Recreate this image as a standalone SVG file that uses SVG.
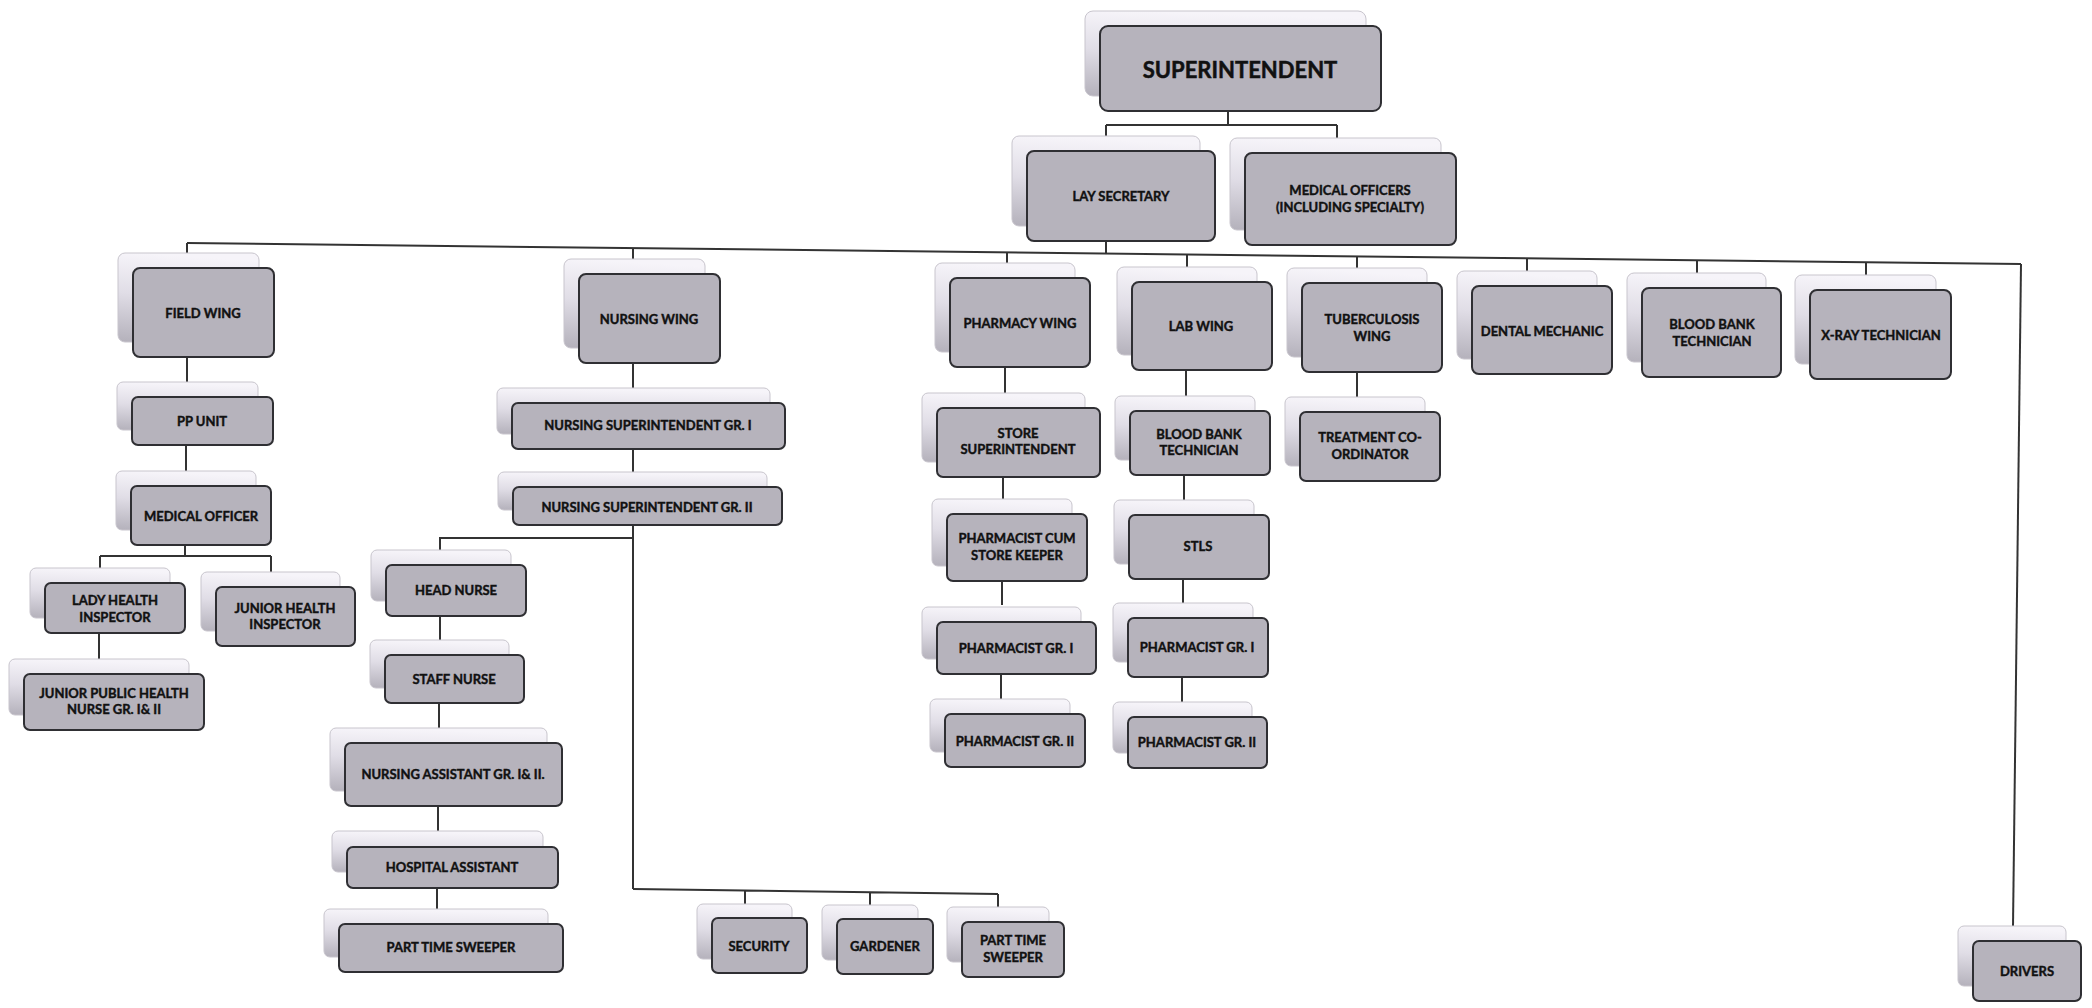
<svg xmlns="http://www.w3.org/2000/svg" width="2092" height="1008" viewBox="0 0 2092 1008">
<defs>
<linearGradient id="gb" x1="0.1" y1="0" x2="0" y2="1">
<stop offset="0" stop-color="#f6f4f9"/>
<stop offset="0.45" stop-color="#e0dde6"/>
<stop offset="1" stop-color="#b4b1bb"/>
</linearGradient>
<style>
.bk{fill:url(#gb);stroke:#c8c5cd;stroke-width:1}
.fr{fill:#b6b3bc;stroke:#2f2f33;stroke-width:2}
.t{font-family:"Lato","Liberation Sans",sans-serif;font-weight:700;font-size:13px;fill:#111;stroke:#111;stroke-width:0.4px;text-anchor:middle;dominant-baseline:central}
.tb{font-size:22px;stroke-width:0.5px}
.c{fill:none;stroke:#333;stroke-width:2}
</style>
</defs>
<rect width="2092" height="1008" fill="#ffffff"/>

<g id="connectors">
<path class="c" d="M1228 111V125M1106 125H1337M1106 125V136M1337 125V138"/>
<path class="c" d="M1106 241V253"/>
<path class="c" d="M187 243L2021 264"/>
<path class="c" d="M187 243V253M633 248V260M1007 252V263M1187 254V267M1357 256V268M1527 258V271M1697 260V273M1866 262V275"/>
<path class="c" d="M2021 264L2013 926"/>
<path class="c" d="M187 357V382M186 445V471M185 545V556M100 556H271M100 556V569M271 556V572M99 633V659"/>
<path class="c" d="M633 363V388M633 449V473M633 525V889M633 538H440V550M440 616V640M439 703V728M438 806V831M437 888V909"/>
<path class="c" d="M633 889L998 894M745 890V904M870 892V905M998 894V907"/>
<path class="c" d="M1005 367V393M1003 477V499M1002 581V605M1001 674V699"/>
<path class="c" d="M1186 370V396M1184 475V500M1183 579V603M1182 677V702"/>
<path class="c" d="M1357 372V397"/>
</g>

<g id="n-superintendent"><rect class="bk" x="1085" y="11" width="281" height="85" rx="8"/><rect class="fr" x="1100" y="26" width="281" height="85" rx="8"/><text class="t tb" x="1240" y="69">SUPERINTENDENT</text></g>
<g id="n-lay-secretary"><rect class="bk" x="1012" y="136" width="188" height="90" rx="7"/><rect class="fr" x="1027" y="151" width="188" height="90" rx="7"/><text class="t" x="1121" y="196">LAY SECRETARY</text></g>
<g id="n-medical-officers"><rect class="bk" x="1230" y="138" width="211" height="92" rx="7"/><rect class="fr" x="1245" y="153" width="211" height="92" rx="7"/><text class="t" x="1350" y="190">MEDICAL OFFICERS</text><text class="t" x="1350" y="207">(INCLUDING SPECIALTY)</text></g>

<g id="n-field-wing"><rect class="bk" x="118" y="253" width="141" height="89" rx="7"/><rect class="fr" x="133" y="268" width="141" height="89" rx="7"/><text class="t" x="203" y="313">FIELD WING</text></g>
<g id="n-pp-unit"><rect class="bk" x="117" y="382" width="141" height="48" rx="6"/><rect class="fr" x="132" y="397" width="141" height="48" rx="6"/><text class="t" x="202" y="421">PP UNIT</text></g>
<g id="n-medical-officer"><rect class="bk" x="116" y="471" width="140" height="59" rx="6"/><rect class="fr" x="131" y="486" width="140" height="59" rx="6"/><text class="t" x="201" y="516">MEDICAL OFFICER</text></g>
<g id="n-lady-health-inspector"><rect class="bk" x="30" y="568" width="140" height="50" rx="6"/><rect class="fr" x="45" y="583" width="140" height="50" rx="6"/><text class="t" x="115" y="600">LADY HEALTH</text><text class="t" x="115" y="617">INSPECTOR</text></g>
<g id="n-junior-health-inspector"><rect class="bk" x="201" y="572" width="139" height="59" rx="6"/><rect class="fr" x="216" y="587" width="139" height="59" rx="6"/><text class="t" x="285" y="608">JUNIOR HEALTH</text><text class="t" x="285" y="624">INSPECTOR</text></g>
<g id="n-jphn"><rect class="bk" x="9" y="659" width="180" height="56" rx="6"/><rect class="fr" x="24" y="674" width="180" height="56" rx="6"/><text class="t" x="114" y="693">JUNIOR PUBLIC HEALTH</text><text class="t" x="114" y="709">NURSE GR. I&amp; II</text></g>

<g id="n-nursing-wing"><rect class="bk" x="564" y="259" width="141" height="89" rx="7"/><rect class="fr" x="579" y="274" width="141" height="89" rx="7"/><text class="t" x="649" y="319">NURSING WING</text></g>
<g id="n-ns1"><rect class="bk" x="497" y="388" width="273" height="46" rx="6"/><rect class="fr" x="512" y="403" width="273" height="46" rx="6"/><text class="t" x="648" y="425">NURSING SUPERINTENDENT GR. I</text></g>
<g id="n-ns2"><rect class="bk" x="498" y="472" width="269" height="38" rx="6"/><rect class="fr" x="513" y="487" width="269" height="38" rx="6"/><text class="t" x="647" y="507">NURSING SUPERINTENDENT GR. II</text></g>
<g id="n-head-nurse"><rect class="bk" x="371" y="550" width="140" height="51" rx="6"/><rect class="fr" x="386" y="565" width="140" height="51" rx="6"/><text class="t" x="456" y="590">HEAD NURSE</text></g>
<g id="n-staff-nurse"><rect class="bk" x="370" y="640" width="139" height="48" rx="6"/><rect class="fr" x="385" y="655" width="139" height="48" rx="6"/><text class="t" x="454" y="679">STAFF NURSE</text></g>
<g id="n-nursing-assistant"><rect class="bk" x="330" y="728" width="217" height="63" rx="6"/><rect class="fr" x="345" y="743" width="217" height="63" rx="6"/><text class="t" x="453" y="774">NURSING ASSISTANT GR. I&amp; II.</text></g>
<g id="n-hospital-assistant"><rect class="bk" x="332" y="831" width="211" height="41" rx="6"/><rect class="fr" x="347" y="847" width="211" height="41" rx="6"/><text class="t" x="452" y="867">HOSPITAL ASSISTANT</text></g>
<g id="n-part-time-sweeper-1"><rect class="bk" x="324" y="909" width="224" height="48" rx="6"/><rect class="fr" x="339" y="924" width="224" height="48" rx="6"/><text class="t" x="451" y="947">PART TIME SWEEPER</text></g>
<g id="n-security"><rect class="bk" x="697" y="904" width="95" height="55" rx="6"/><rect class="fr" x="712" y="918" width="95" height="55" rx="6"/><text class="t" x="759" y="946">SECURITY</text></g>
<g id="n-gardener"><rect class="bk" x="822" y="905" width="96" height="55" rx="6"/><rect class="fr" x="837" y="919" width="96" height="55" rx="6"/><text class="t" x="885" y="946">GARDENER</text></g>
<g id="n-part-time-sweeper-2"><rect class="bk" x="947" y="907" width="102" height="55" rx="6"/><rect class="fr" x="962" y="922" width="102" height="55" rx="6"/><text class="t" x="1013" y="940">PART TIME</text><text class="t" x="1013" y="957">SWEEPER</text></g>

<g id="n-pharmacy-wing"><rect class="bk" x="935" y="263" width="140" height="89" rx="7"/><rect class="fr" x="950" y="278" width="140" height="89" rx="7"/><text class="t" x="1020" y="323">PHARMACY WING</text></g>
<g id="n-store-superintendent"><rect class="bk" x="922" y="393" width="163" height="69" rx="6"/><rect class="fr" x="937" y="408" width="163" height="69" rx="6"/><text class="t" x="1018" y="433">STORE</text><text class="t" x="1018" y="449">SUPERINTENDENT</text></g>
<g id="n-pharmacist-cum-store-keeper"><rect class="bk" x="932" y="499" width="140" height="67" rx="6"/><rect class="fr" x="947" y="514" width="140" height="67" rx="6"/><text class="t" x="1017" y="538">PHARMACIST CUM</text><text class="t" x="1017" y="555">STORE KEEPER</text></g>
<g id="n-pharmacist-gr1-a"><rect class="bk" x="922" y="607" width="159" height="52" rx="6"/><rect class="fr" x="937" y="622" width="159" height="52" rx="6"/><text class="t" x="1016" y="648">PHARMACIST GR. I</text></g>
<g id="n-pharmacist-gr2-a"><rect class="bk" x="930" y="699" width="140" height="53" rx="6"/><rect class="fr" x="945" y="714" width="140" height="53" rx="6"/><text class="t" x="1015" y="741">PHARMACIST GR. II</text></g>

<g id="n-lab-wing"><rect class="bk" x="1117" y="267" width="140" height="88" rx="7"/><rect class="fr" x="1132" y="282" width="140" height="88" rx="7"/><text class="t" x="1201" y="326">LAB WING</text></g>
<g id="n-blood-bank-technician-lab"><rect class="bk" x="1115" y="396" width="140" height="64" rx="6"/><rect class="fr" x="1130" y="411" width="140" height="64" rx="6"/><text class="t" x="1199" y="434">BLOOD BANK</text><text class="t" x="1199" y="450">TECHNICIAN</text></g>
<g id="n-stls"><rect class="bk" x="1114" y="500" width="140" height="64" rx="6"/><rect class="fr" x="1129" y="515" width="140" height="64" rx="6"/><text class="t" x="1198" y="546">STLS</text></g>
<g id="n-pharmacist-gr1-b"><rect class="bk" x="1113" y="603" width="140" height="59" rx="6"/><rect class="fr" x="1128" y="618" width="140" height="59" rx="6"/><text class="t" x="1197" y="647">PHARMACIST GR. I</text></g>
<g id="n-pharmacist-gr2-b"><rect class="bk" x="1113" y="702" width="139" height="51" rx="6"/><rect class="fr" x="1128" y="717" width="139" height="51" rx="6"/><text class="t" x="1197" y="742">PHARMACIST GR. II</text></g>

<g id="n-tuberculosis-wing"><rect class="bk" x="1287" y="268" width="140" height="89" rx="7"/><rect class="fr" x="1302" y="283" width="140" height="89" rx="7"/><text class="t" x="1372" y="319">TUBERCULOSIS</text><text class="t" x="1372" y="336">WING</text></g>
<g id="n-treatment-coordinator"><rect class="bk" x="1285" y="397" width="140" height="69" rx="6"/><rect class="fr" x="1300" y="412" width="140" height="69" rx="6"/><text class="t" x="1370" y="437">TREATMENT CO-</text><text class="t" x="1370" y="454">ORDINATOR</text></g>
<g id="n-dental-mechanic"><rect class="bk" x="1457" y="271" width="140" height="88" rx="7"/><rect class="fr" x="1472" y="286" width="140" height="88" rx="7"/><text class="t" x="1542" y="331">DENTAL MECHANIC</text></g>
<g id="n-blood-bank-technician"><rect class="bk" x="1627" y="273" width="139" height="89" rx="7"/><rect class="fr" x="1642" y="288" width="139" height="89" rx="7"/><text class="t" x="1712" y="324">BLOOD BANK</text><text class="t" x="1712" y="341">TECHNICIAN</text></g>
<g id="n-xray-technician"><rect class="bk" x="1795" y="275" width="141" height="89" rx="7"/><rect class="fr" x="1810" y="290" width="141" height="89" rx="7"/><text class="t" x="1881" y="335">X-RAY TECHNICIAN</text></g>
<g id="n-drivers"><rect class="bk" x="1958" y="926" width="108" height="60" rx="6"/><rect class="fr" x="1973" y="941" width="108" height="60" rx="6"/><text class="t" x="2027" y="971">DRIVERS</text></g>
</svg>
